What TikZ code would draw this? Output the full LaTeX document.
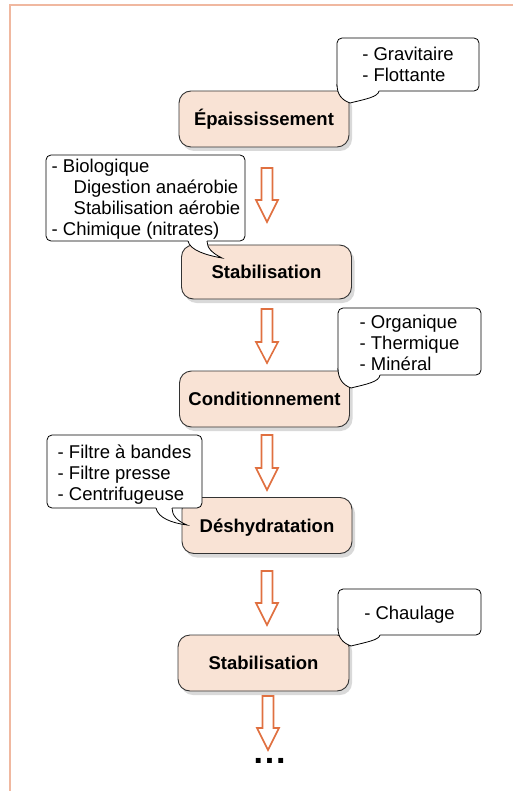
\documentclass[tikz,border=0pt]{standalone}
\usepackage{fontspec}
\setmainfont{Liberation Sans}
\usetikzlibrary{shadows,calc}
\definecolor{boxfill}{HTML}{F9E3D5}
\definecolor{arrowc}{HTML}{E07040}
\definecolor{framec}{HTML}{F0B8A0}
\definecolor{shadowc}{HTML}{D9D9D9}
\tikzset{
  stepbox/.style={draw=black!80, line width=0.9pt, fill=boxfill, rounded corners=12pt,
    minimum width=170pt, minimum height=56pt, inner sep=0pt,
    font=\fontsize{18.5}{21}\selectfont\bfseries,
    drop shadow={shadow xshift=3pt, shadow yshift=-4pt, fill=shadowc, opacity=1}},
  callout/.style={draw=black, line width=0.8pt, fill=white, rounded corners=5pt, inner sep=0pt},
  callouttext/.style={inner sep=0pt, align=left, font=\fontsize{18.5}{21}\selectfont},
  tailline/.style={draw=black, line width=0.8pt},
  blockarrow/.style={draw=arrowc, line width=1.6pt, fill=white, line join=miter},
  frameline/.style={draw=framec, line width=2pt},
  pics/barrow/.style 2 args={code={
    \draw[blockarrow] (-5.5,0) -- (5.5,0) -- (5.5,#1) -- (11,#1) -- (0,#2)
      -- (-11,#1) -- (-5.5,#1) -- cycle;}},
}
\begin{document}
\begin{tikzpicture}[x=1pt,y=-1pt]
\useasboundingbox (0,0) rectangle (513,791);
\draw[frameline] (10,792) -- (10,5) -- (514,5);

% main steps
\node[stepbox] (b1) at (264,119) {Épaississement};
\node[stepbox, minimum height=54pt] (b2) at (266.5,272) {Stabilisation};
\node[stepbox] (b3) at (264.5,399) {Conditionnement};
\node[stepbox] (b4) at (267,525.5) {\raisebox{-2.5pt}[\height][\depth]{Déshydratation}};
\node[stepbox, minimum width=171pt] (b5) at (263.5,663) {Stabilisation};

% block arrows
\coordinate (a1) at (267,168);
\coordinate (a2) at (267,309);
\coordinate (a3) at (267,435);
\coordinate (a4) at (267,571);
\coordinate (a5) at (268,696);
\pic at (a1) {barrow={32}{54}};
\pic at (a2) {barrow={33}{54}};
\pic at (a3) {barrow={33}{55}};
\pic at (a4) {barrow={32}{54}};
\pic at (a5) {barrow={32}{54}};

\node[anchor=base, inner sep=0pt, font=\fontsize{34}{34}\selectfont\bfseries] (dots) at (269.5,763)
  {.\hspace{1.8pt}.\hspace{1.8pt}.};

% callout 1
\node[callout, minimum width=142pt, minimum height=53pt] (c1) at (408,64.5) {};
\node[callouttext] (c1t) at ($(c1)+(0,0)$) {- Gravitaire\\- Flottante};
\fill[white] (337,84) .. controls (337,95) and (342,100) .. (350,103)
  .. controls (366,99) and (378,97) .. (379,91) -- (379,89) -- (338.5,84) -- cycle;
\draw[tailline] (337,84) .. controls (337,95) and (342,100) .. (350,103)
  .. controls (366,99) and (378,97) .. (379,91);

% callout 2
\node[callout, minimum width=199pt, minimum height=86pt] (c2) at (145.5,198) {};
\node[callouttext] (c2t) at ($(c2)+(0.5,1.5)$)
  {- Biologique\\\hspace*{22pt}Digestion anaérobie\\\hspace*{22pt}Stabilisation aérobie\\- Chimique (nitrates)};
\fill[white] (188,241) .. controls (190,250) and (205,255) .. (222,258)
  .. controls (212,253) and (207,248) .. (207,241) -- (207,239) -- (188,239) -- cycle;
\draw[tailline] (188,241) .. controls (190,250) and (205,255) .. (222,258)
  .. controls (212,253) and (207,248) .. (207,241);

% callout 3
\node[callout, minimum width=143pt, minimum height=67pt] (c3) at (409.5,341.5) {};
\node[callouttext] (c3t) at ($(c3)+(0,1.5)$) {- Organique\\- Thermique\\- Minéral};
\fill[white] (338,368) .. controls (338,379) and (343,385) .. (351,388)
  .. controls (367,384) and (379,382) .. (380,375) -- (380,373) -- (339.5,368) -- cycle;
\draw[tailline] (338,368) .. controls (338,379) and (343,385) .. (351,388)
  .. controls (367,384) and (379,382) .. (380,375);

% callout 4
\node[callout, minimum width=155pt, minimum height=73pt] (c4) at (124.5,471.5) {};
\node[callouttext] (c4t) at ($(c4)+(0,3.5)$) {- Filtre à bandes\\- Filtre presse\\- Centrifugeuse};
\fill[white] (156,508) .. controls (158,518) and (172,523) .. (187,525)
  .. controls (177,521) and (172,515) .. (172,508) -- (172,506) -- (156,506) -- cycle;
\draw[tailline] (156,508) .. controls (158,518) and (172,523) .. (187,525)
  .. controls (177,521) and (172,515) .. (172,508);

% callout 5
\node[callout, minimum width=143pt, minimum height=46pt] (c5) at (409.5,612) {};
\node[callouttext] (c5t) at ($(c5)+(0,3)$) {- Chaulage};
\fill[white] (338,628) .. controls (338,638) and (343,643) .. (351,646)
  .. controls (367,642) and (379,640) .. (380,635) -- (380,633) -- (339.5,628) -- cycle;
\draw[tailline] (338,628) .. controls (338,638) and (343,643) .. (351,646)
  .. controls (367,642) and (379,640) .. (380,635);
\end{tikzpicture}
\end{document}
